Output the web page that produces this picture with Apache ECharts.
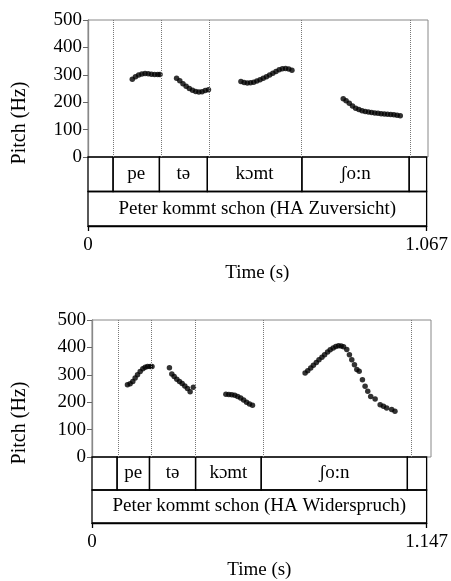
<!DOCTYPE html>
<html>
<head>
<meta charset="utf-8">
<script src="https://cdn.jsdelivr.net/npm/echarts@6/dist/echarts.min.js"></script>
<style>
  html, body { margin: 0; padding: 0; background: #fff; }
  #chart { width: 451px; height: 581px; }
</style>
</head>
<body>
<div id="chart"></div>
<script>
// Painel de cima: HA Zuversicht
const topDuration = 1.067;
const topBounds = [0, 0.079, 0.225, 0.376, 0.674, 1.012, 1.067];
const topSyllables = ['', 'pe', 'tə', 'kɔmt', 'ʃo:n', ''];
const topPhrase = 'Peter kommt schon (HA Zuversicht)';
const topPitch = [
    [0.139, 284], [0.149, 293], [0.159, 299], [0.169, 303], [0.179, 305], [0.189, 304],
    [0.199, 302], [0.209, 301], [0.219, 301], [0.226, 301],
    [0.278, 287], [0.288, 278], [0.298, 267], [0.308, 258], [0.318, 250], [0.328, 244],
    [0.338, 239], [0.348, 237], [0.358, 238], [0.368, 243], [0.378, 245],
    [0.480, 276], [0.490, 272], [0.500, 270], [0.510, 271], [0.520, 273], [0.530, 277],
    [0.540, 282], [0.550, 287], [0.560, 293], [0.570, 299], [0.580, 306], [0.590, 312],
    [0.600, 318], [0.610, 322], [0.620, 323], [0.630, 321], [0.640, 317],
    [0.801, 213], [0.810, 205], [0.820, 196], [0.830, 186], [0.840, 178], [0.850, 173],
    [0.860, 169], [0.870, 166], [0.880, 164], [0.890, 162], [0.900, 161], [0.910, 160],
    [0.920, 158], [0.930, 157], [0.940, 156], [0.950, 155], [0.960, 154], [0.970, 152],
    [0.980, 151]
];

// Painel de baixo: HA Widerspruch
const bottomDuration = 1.147;
const bottomBounds = [0, 0.086, 0.197, 0.355, 0.580, 1.081, 1.147];
const bottomSyllables = ['', 'pe', 'tə', 'kɔmt', 'ʃo:n', ''];
const bottomPhrase = 'Peter kommt schon (HA Widerspruch)';
const bottomPitch = [
    [0.120, 264], [0.129, 267], [0.138, 276], [0.146, 288], [0.154, 300], [0.163, 312],
    [0.172, 322], [0.180, 328], [0.188, 330], [0.197, 330], [0.203, 330],
    [0.262, 326], [0.270, 303], [0.278, 294], [0.287, 284], [0.296, 276], [0.305, 268],
    [0.314, 259], [0.323, 250], [0.332, 238], [0.343, 255],
    [0.453, 229], [0.463, 228], [0.473, 227], [0.483, 225], [0.493, 221], [0.503, 215],
    [0.513, 208], [0.523, 200], [0.533, 193], [0.543, 189],
    [0.721, 307], [0.730, 315], [0.740, 325], [0.749, 335], [0.759, 345], [0.768, 355],
    [0.778, 364], [0.787, 373], [0.797, 383], [0.806, 391], [0.816, 398], [0.825, 403],
    [0.834, 406], [0.843, 405], [0.851, 402], [0.862, 392], [0.871, 373], [0.879, 355],
    [0.888, 337], [0.896, 319], [0.904, 313], [0.915, 282], [0.924, 258], [0.933, 240],
    [0.943, 221], [0.958, 212], [0.975, 191], [0.986, 185], [0.997, 179], [1.014, 173],
    [1.025, 167]
];

const FONT = 'Liberation Serif';
const FS = 19;

// Monta os intervalos das camadas (tiers) a partir das fronteiras
function buildTiers(bounds, syllables, phrase) {
    const rows = [];
    for (let i = 0; i < syllables.length; i++) {
        rows.push([bounds[i], bounds[i + 1], 1, syllables[i]]);
    }
    rows.push([bounds[0], bounds[bounds.length - 1], 0, phrase]);
    return rows;
}

// renderItem com acesso às linhas (o texto não vem pelo api.value)
function makeTierRenderer(rows) {
    return function (params, api) {
        const row = rows[params.dataIndex];
        const p0 = api.coord([row[0], row[2] + 1]);
        const p1 = api.coord([row[1], row[2]]);
        return {
            type: 'group',
            children: [
                {
                    type: 'rect',
                    shape: { x: p0[0], y: p0[1], width: p1[0] - p0[0], height: p1[1] - p0[1] },
                    style: { fill: 'none', stroke: '#000', lineWidth: 1.3 }
                },
                {
                    type: 'text',
                    style: {
                        text: row[3],
                        x: (p0[0] + p1[0]) / 2,
                        y: (p0[1] + p1[1]) / 2,
                        align: 'center',
                        verticalAlign: 'middle',
                        fontFamily: FONT,
                        fontSize: FS,
                        fill: '#000'
                    }
                }
            ]
        };
    };
}

// Cada painel: grid do pitch + grid das camadas
const panels = [
    { left: 88, top: 20, width: 340, dur: topDuration, bounds: topBounds, syl: topSyllables, phrase: topPhrase, pitch: topPitch },
    { left: 92, top: 320, width: 339, dur: bottomDuration, bounds: bottomBounds, syl: bottomSyllables, phrase: bottomPhrase, pitch: bottomPitch }
];

const grid = [];
const xAxis = [];
const yAxis = [];
const series = [];
const graphic = [];

panels.forEach((p, k) => {
    const pitchH = 137;
    const tierH = 69;
    grid.push({ left: p.left, top: p.top, width: p.width, height: pitchH, show: true, borderColor: '#888', borderWidth: 1 });
    grid.push({ left: p.left, top: p.top + pitchH, width: p.width, height: tierH });

    xAxis.push({
        gridIndex: 2 * k, type: 'value', min: 0, max: p.dur,
        axisLine: { show: false }, axisTick: { show: false }, axisLabel: { show: false }, splitLine: { show: false }
    });
    xAxis.push({
        gridIndex: 2 * k + 1, type: 'value', min: 0, max: p.dur, interval: p.dur,
        name: 'Time (s)', nameLocation: 'middle', nameGap: 38,
        nameTextStyle: { fontFamily: FONT, fontSize: FS, color: '#000' },
        axisLine: { show: true, lineStyle: { color: '#000', width: 1.3 } },
        axisTick: { show: true, length: 5, lineStyle: { color: '#000', width: 1.3 } },
        axisLabel: { fontFamily: FONT, fontSize: FS, color: '#000', margin: 10, showMinLabel: true, showMaxLabel: true },
        splitLine: { show: false }
    });

    yAxis.push({
        gridIndex: 2 * k, type: 'value', min: 0, max: 500, interval: 100,
        axisLine: { show: true, lineStyle: { color: '#888', width: 1.3 } },
        axisTick: { show: true, length: 5, lineStyle: { color: '#666' } },
        axisLabel: { fontFamily: FONT, fontSize: FS, color: '#000', margin: 6 },
        splitLine: { show: false }
    });
    yAxis.push({
        gridIndex: 2 * k + 1, type: 'value', min: 0, max: 2,
        axisLine: { show: false }, axisTick: { show: false }, axisLabel: { show: false }, splitLine: { show: false }
    });

    series.push({
        type: 'scatter',
        xAxisIndex: 2 * k, yAxisIndex: 2 * k,
        data: p.pitch,
        symbolSize: 5.5,
        itemStyle: { color: '#000' },
        silent: true,
        markLine: {
            silent: true,
            symbol: 'none',
            label: { show: false },
            lineStyle: { type: 'dotted', color: '#777', width: 1 },
            data: p.bounds.slice(1, -1).map(t => ({ xAxis: t }))
        }
    });

    const tierRows = buildTiers(p.bounds, p.syl, p.phrase);
    series.push({
        type: 'custom',
        xAxisIndex: 2 * k + 1, yAxisIndex: 2 * k + 1,
        data: tierRows.map(r => [r[0], r[1], r[2]]),
        renderItem: makeTierRenderer(tierRows),
        silent: true
    });

    // Rótulo do eixo Y centrado no painel inteiro
    graphic.push({
        type: 'text',
        x: 20,
        y: p.top + (pitchH + tierH) / 2,
        rotation: Math.PI / 2,
        style: {
            text: 'Pitch (Hz)',
            fontFamily: FONT,
            fontSize: 20,
            fill: '#000',
            align: 'center',
            verticalAlign: 'middle'
        }
    });
});

const myChart = echarts.init(document.getElementById('chart'));
myChart.setOption({
    animation: false,
    grid: grid,
    xAxis: xAxis,
    yAxis: yAxis,
    series: series,
    graphic: graphic
});
</script>
</body>
</html>
